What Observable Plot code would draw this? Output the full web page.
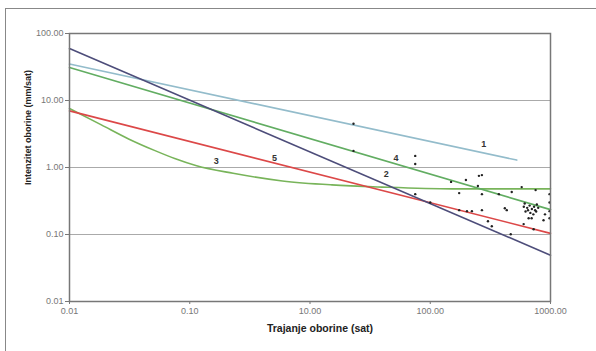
<!DOCTYPE html>
<html>
<head>
<meta charset="utf-8">
<script src="https://cdn.jsdelivr.net/npm/d3@7"></script>
<script src="https://cdn.jsdelivr.net/npm/@observablehq/plot@0.6"></script>
<style>
  html, body { margin: 0; padding: 0; background: #fff; overflow: hidden; }
  #wrap { position: relative; width: 596px; height: 351px; overflow: hidden; font-family: "Liberation Sans", Arial, sans-serif; }
  #border { position: absolute; left: 5px; top: 8px; width: 620px; height: 380px; border-left: 1px solid #888; border-top: 1px solid #888; box-sizing: border-box; }
  #chart { position: absolute; left: 0; top: 0; }
</style>
</head>
<body>
<div id="wrap"><div id="border"></div><div id="chart"></div></div>
<script>
// X axis tick values and labels (as printed on the chart)
const xTickValues = [0.01, 0.1, 10, 100, 1000];
const xTickLabels = ["0.01", "0.10", "10.00", "100.00", "1000.00"];
const yTickValues = [0.01, 0.1, 1, 10, 100];
const yGrid = [0.1, 1, 10];

// Lines: duration (h) and intensity (mm/h)
const line1T = [0.01, 524];  const line1I = [35, 1.29];
const line2T = [0.01, 1000]; const line2I = [59.6, 0.049];
const line4T = [0.01, 1000]; const line4I = [31, 0.235];
const line5T = [0.01, 1000]; const line5I = [7.0, 0.104];
const curve3T = [0.01, 0.0184, 0.031, 0.052, 0.075, 0.13, 0.526, 3.48, 15.2, 39.8, 152, 1000];
const curve3I = [7.6, 4.33, 2.67, 1.77, 1.36, 1.06, 0.82, 0.63, 0.55, 0.51, 0.48, 0.48];

// Observed points
const pointsT = [23, 23, 75, 75, 149, 198, 254, 269, 249, 174, 269, 372, 476, 576, 752, 982, 75, 100,
  174, 202, 222, 269, 417, 433, 610, 640, 670, 700, 730, 760, 790, 620, 680, 720, 650, 770, 600, 745,
  658, 697, 875, 982, 302, 325, 724, 467, 982, 598, 982, 900];
const pointsI = [4.49, 1.77, 1.49, 1.13, 0.61, 0.65, 0.75, 0.77, 0.53, 0.415, 0.40, 0.40, 0.43, 0.51, 0.46, 0.40, 0.40, 0.30,
  0.231, 0.223, 0.223, 0.231, 0.247, 0.231, 0.29, 0.25, 0.27, 0.24, 0.26, 0.22, 0.25, 0.22, 0.21, 0.20, 0.23, 0.28, 0.26, 0.23,
  0.175, 0.175, 0.163, 0.223, 0.158, 0.133, 0.120, 0.101, 0.175, 0.143, 0.30, 0.20];

// Line number labels
const labelText = ["1", "2", "3", "4", "5"];
const labelT = [279, 43, 0.277, 52, 2.57];
const labelI = [2.25, 0.80, 1.25, 1.39, 1.39];

// position along the printed (evenly spaced) x axis
const logTicks = xTickValues.map(Math.log10);
function pos(v) {
  const L = Math.log10(v);
  for (let i = 0; i < logTicks.length - 1; i++) {
    if (L <= logTicks[i + 1] || i === logTicks.length - 2) {
      return i + (L - logTicks[i]) / (logTicks[i + 1] - logTicks[i]);
    }
  }
}
const toRows = (T, I) => T.map((t, k) => ({x: pos(t), y: I[k]}));

const font = "Liberation Sans, Arial, sans-serif";
const chart = Plot.plot({
  width: 596, height: 351,
  marginLeft: 69, marginRight: 46, marginTop: 33, marginBottom: 50,
  style: {fontFamily: font, background: "transparent"},
  x: {type: "linear", domain: [0, 4]},
  y: {type: "log", domain: [0.01, 100]},
  marks: [
    Plot.ruleY(yGrid, {stroke: "#aaa", strokeWidth: 1}),
    Plot.line(toRows(curve3T, curve3I), {x: "x", y: "y", stroke: "#78b45a", strokeWidth: 1.6, curve: "monotone-x"}),
    Plot.line(toRows(line1T, line1I), {x: "x", y: "y", stroke: "#93bccb", strokeWidth: 1.6}),
    Plot.line(toRows(line4T, line4I), {x: "x", y: "y", stroke: "#62ad62", strokeWidth: 1.6}),
    Plot.line(toRows(line5T, line5I), {x: "x", y: "y", stroke: "#dc4848", strokeWidth: 1.6}),
    Plot.line(toRows(line2T, line2I), {x: "x", y: "y", stroke: "#4d4d7a", strokeWidth: 1.6}),
    Plot.dot(toRows(pointsT, pointsI), {x: "x", y: "y", r: 1.2, fill: "#222", stroke: null}),
    Plot.text(labelText.map((s, k) => ({s, x: pos(labelT[k]), y: labelI[k]})), {x: "x", y: "y", text: "s", fontSize: 9, fontWeight: "bold", fill: "#333"}),
    Plot.frame({stroke: "#777", strokeWidth: 1.5}),
    Plot.axisY({ticks: yTickValues, tickFormat: d3.format(".2f"), tickSize: 4, tickPadding: 2, fontSize: 9, color: "#777", label: null}),
    Plot.axisX({ticks: [0, 1, 2, 3, 4], tickFormat: i => xTickLabels[i], tickSize: 3, tickPadding: 3, fontSize: 9, color: "#777", label: null}),
    Plot.text(["Trajanje oborine (sat)"], {frameAnchor: "bottom", dy: 30, dx: 10, fontSize: 10.5, fontWeight: "bold", fill: "#222"}),
    Plot.text(["Intenzitet oborine (mm/sat)"], {frameAnchor: "left", textAnchor: "middle", dx: -41, dy: -40, rotate: -90, fontSize: 9, fontWeight: "bold", fill: "#222"})
  ]
});
document.getElementById("chart").appendChild(chart);
</script>
</body>
</html>
